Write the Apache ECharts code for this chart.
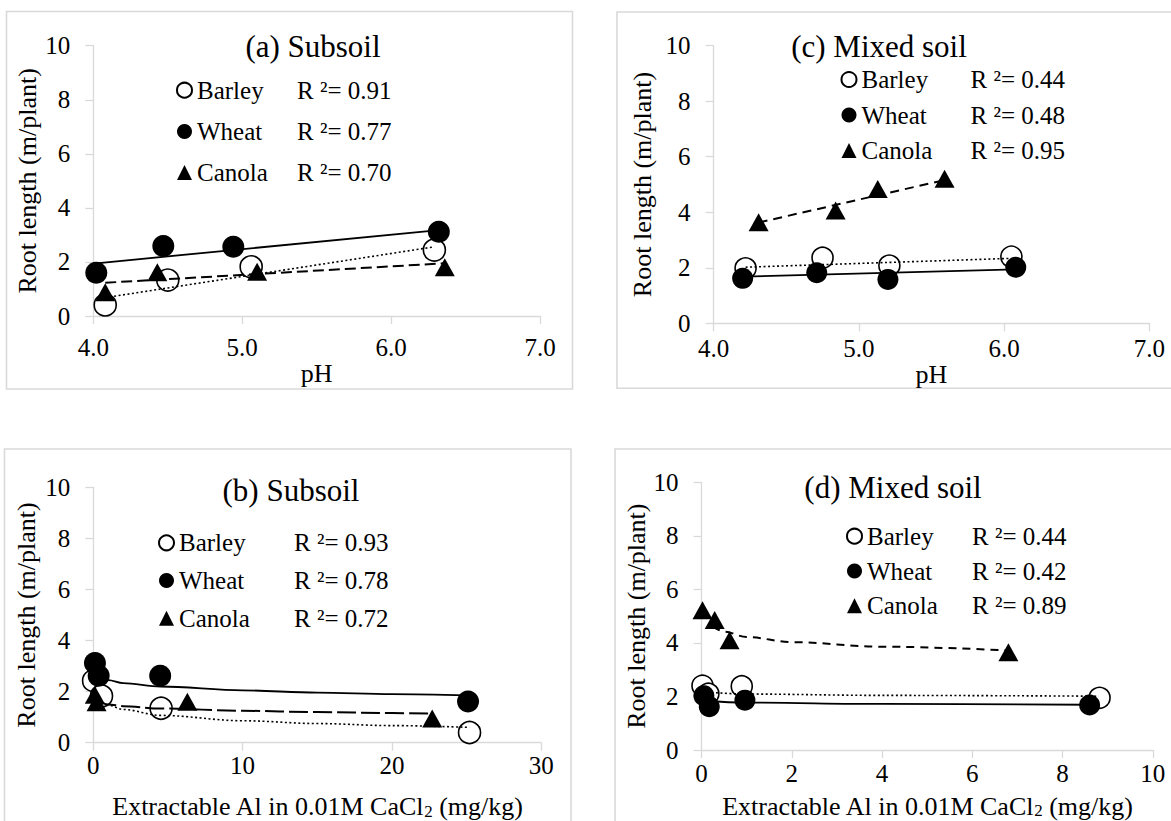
<!DOCTYPE html>
<html>
<head>
<meta charset="utf-8">
<script src="https://cdn.jsdelivr.net/npm/echarts@6/dist/echarts.min.js"></script>
<style>
html,body{margin:0;padding:0;background:#fff;}
#chart{width:1171px;height:821px;}
</style>
</head>
<body>
<div id="chart"></div>
<script>
// ---------------- DATA ----------------
const crops = ['Barley', 'Wheat', 'Canola'];
const rootTicks = ['0', '2', '4', '6', '8', '10'];
const phTicks = ['4.0', '5.0', '6.0', '7.0'];
const alTicksB = ['0', '10', '20', '30'];
const alTicksD = ['0', '2', '4', '6', '8', '10'];

const yName = 'Root length (m/plant)';
const phName = 'pH';
const alName = 'Extractable Al in 0.01M CaCl{sub|2} (mg/kg)';

const titleA = '(a) Subsoil';
const titleB = '(b) Subsoil';
const titleC = '(c) Mixed soil';
const titleD = '(d) Mixed soil';

// (a) Subsoil: root length vs pH
const aBarley = [[4.08, 0.41], [4.50, 1.33], [5.06, 1.82], [6.29, 2.44]];
const aWheat  = [[4.02, 1.60], [4.47, 2.59], [4.94, 2.56], [6.32, 3.12]];
const aCanola = [[4.08, 0.88], [4.43, 1.62], [5.10, 1.64], [6.36, 1.80]];
const aBarleyFit = [[4.08, 0.68], [6.29, 2.56]];
const aWheatFit  = [[4.02, 1.95], [6.32, 3.18]];
const aCanolaFit = [[4.08, 1.23], [6.36, 1.95]];
const aR2 = ['0.91', '0.77', '0.70'];

// (b) Subsoil: root length vs extractable Al
const bBarley = [[0.02, 2.43], [0.55, 1.83], [4.54, 1.35], [25.2, 0.40]];
const bWheat  = [[0.11, 3.12], [0.36, 2.62], [4.48, 2.62], [25.1, 1.61]];
const bCanola = [[0.10, 1.88], [0.22, 1.58], [6.3, 1.60], [22.7, 0.95]];
const bBarleyFit = [[0.4, 1.70], [1, 1.47], [2, 1.30], [4.5, 1.07], [10, 0.86], [15, 0.75], [20, 0.67], [25.2, 0.60]];
const bWheatFit  = [[0.3, 2.65], [1, 2.45], [2, 2.33], [4.5, 2.20], [10, 2.05], [15, 1.96], [20, 1.90], [25.1, 1.85]];
const bCanolaFit = [[0.3, 1.62], [1, 1.50], [2, 1.43], [4.5, 1.34], [10, 1.25], [15, 1.20], [20, 1.16], [22.7, 1.14]];
const bR2 = ['0.93', '0.78', '0.72'];

// (c) Mixed soil: root length vs pH
const cBarley = [[4.22, 1.98], [4.75, 2.36], [5.21, 2.08], [6.05, 2.40]];
const cWheat  = [[4.20, 1.62], [4.71, 1.82], [5.20, 1.58], [6.08, 2.02]];
const cCanola = [[4.31, 3.64], [4.84, 4.06], [5.13, 4.84], [5.59, 5.21]];
const cBarleyFit = [[4.22, 2.02], [6.05, 2.34]];
const cWheatFit  = [[4.20, 1.68], [6.08, 1.94]];
const cCanolaFit = [[4.31, 3.63], [5.59, 5.16]];
const cR2 = ['0.44', '0.48', '0.95'];

// (d) Mixed soil: root length vs extractable Al
const dBarley = [[0.02, 2.40], [0.15, 2.10], [0.89, 2.38], [8.82, 1.95]];
const dWheat  = [[0.05, 2.03], [0.17, 1.62], [0.96, 1.86], [8.60, 1.68]];
const dCanola = [[0.02, 5.22], [0.29, 4.86], [0.62, 4.10], [6.80, 3.65]];
const dBarleyFit = [[0.12, 2.16], [1, 2.09], [4, 2.04], [8.8, 2.01]];
const dWheatFit  = [[0.05, 1.84], [1, 1.77], [4, 1.72], [8.6, 1.69]];
const dCanolaFit = [[0.25, 4.62], [0.5, 4.42], [1, 4.22], [2, 4.03], [4, 3.86], [6.8, 3.72]];
const dR2 = ['0.44', '0.42', '0.89'];

// ---------------- LAYOUT / STYLE ----------------
const FF = "'Liberation Serif', 'Times New Roman', serif";
const AXIS_GRAY = '#d9d9d9';

const panels = [
  { title: titleA, titleX: 313, titleY: 46,
    grid: { left: 93.3, top: 45.7, width: 446.8, height: 270.3 },
    x: { min: 4, max: 7, interval: 1, ticks: phTicks, name: phName, nameGap: 44, labelMargin: 19 },
    yNameGap: 53, yLabelMargin: 23, circleSize: 22,
    legend: { left: 176, top: 77.7, itemGap: 16.2, nameWidth: 100 },
    border: [6.5, 11.5, 566, 377.5],
    data: [aBarley, aWheat, aCanola], fits: [aBarleyFit, aWheatFit, aCanolaFit], r2: aR2,
    smooth: false, canolaDash: [11, 5] },
  { title: titleC, titleX: 879, titleY: 46,
    grid: { left: 713.6, top: 45.7, width: 435.8, height: 277.6 },
    x: { min: 4, max: 7, interval: 1, ticks: phTicks, name: phName, nameGap: 37, labelMargin: 12.5 },
    yNameGap: 58, yLabelMargin: 23, circleSize: 21,
    legend: { left: 840.5, top: 67, itemGap: 10.5, nameWidth: 109 },
    border: [617, 12, 620, 376.3],
    data: [cBarley, cWheat, cCanola], fits: [cBarleyFit, cWheatFit, cCanolaFit], r2: cR2,
    smooth: false, canolaDash: [9, 6] },
  { title: titleB, titleX: 291, titleY: 490,
    grid: { left: 93.3, top: 487.3, width: 447.9, height: 255.4 },
    x: { min: 0, max: 30, interval: 10, ticks: alTicksB, name: alName, nameGap: 51, labelMargin: 10 },
    yNameGap: 54, yLabelMargin: 23, circleSize: 22,
    legend: { left: 158, top: 530.3, itemGap: 12.7, nameWidth: 115 },
    border: [4.5, 449, 566.5, 420],
    data: [bBarley, bWheat, bCanola], fits: [bBarleyFit, bWheatFit, bCanolaFit], r2: bR2,
    smooth: true, canolaDash: [19, 5] },
  { title: titleD, titleX: 893, titleY: 487.3,
    grid: { left: 701.6, top: 482.3, width: 451.2, height: 267.7 },
    x: { min: 0, max: 10, interval: 2, ticks: alTicksD, name: alName, nameGap: 43, labelMargin: 10.5 },
    yNameGap: 51, yLabelMargin: 23, circleSize: 21,
    legend: { left: 846, top: 523.7, itemGap: 9.8, nameWidth: 105 },
    border: [615, 449, 620, 420],
    data: [dBarley, dWheat, dCanola], fits: [dBarleyFit, dWheatFit, dCanolaFit], r2: dR2,
    smooth: true, canolaDash: [8, 6] }
];

function markerStyle(k, size) {
  if (k === 0) return { symbol: 'circle', symbolSize: size, itemStyle: { color: '#ffffff', borderColor: '#000', borderWidth: 1.6, opacity: 1 } };
  if (k === 1) return { symbol: 'circle', symbolSize: size, itemStyle: { color: '#000', borderColor: '#000', borderWidth: 0, opacity: 1 } };
  return { symbol: 'triangle', symbolSize: [20, 18], itemStyle: { color: '#000', borderWidth: 0, opacity: 1 } };
}

const grids = [], xAxes = [], yAxes = [], series = [], legends = [], graphics = [];

panels.forEach((p, i) => {
  grids.push(Object.assign({ containLabel: false, outerBoundsMode: 'none' }, p.grid));
  xAxes.push({
    gridIndex: i, type: 'value', min: p.x.min, max: p.x.max, interval: p.x.interval,
    axisLine: { show: true, onZero: false, lineStyle: { color: AXIS_GRAY, width: 1.3 } },
    axisTick: { show: true, inside: false, length: 8, lineStyle: { color: AXIS_GRAY, width: 1.3 } },
    splitLine: { show: false },
    axisLabel: { show: true, margin: p.x.labelMargin, color: '#000', fontSize: 25, fontFamily: FF,
      showMinLabel: true, showMaxLabel: true, hideOverlap: false,
      formatter: (v) => p.x.ticks[Math.round((v - p.x.min) / p.x.interval)] },
    name: p.x.name, nameLocation: 'middle', nameGap: p.x.nameGap,
    nameTextStyle: { color: '#000', fontSize: 26, fontFamily: FF, lineHeight: 26,
      rich: { sub: { fontSize: 17, fontFamily: FF, color: '#000', lineHeight: 14, verticalAlign: 'bottom' } } }
  });
  yAxes.push({
    gridIndex: i, type: 'value', min: 0, max: 10, interval: 2,
    axisLine: { show: true, onZero: false, lineStyle: { color: AXIS_GRAY, width: 1.3 } },
    axisTick: { show: true, inside: false, length: 8, lineStyle: { color: AXIS_GRAY, width: 1.3 } },
    splitLine: { show: false },
    axisLabel: { show: true, margin: p.yLabelMargin, color: '#000', fontSize: 25, fontFamily: FF,
      showMinLabel: true, showMaxLabel: true,
      formatter: (v) => rootTicks[Math.round(v / 2)] },
    name: yName, nameLocation: 'middle', nameGap: p.yNameGap,
    nameTextStyle: { color: '#000', fontSize: 26, fontFamily: FF }
  });

  crops.forEach((crop, k) => {
    series.push(Object.assign({
      name: crop, type: 'scatter', xAxisIndex: i, yAxisIndex: i,
      data: p.data[k], z: 2 + k * 0.1, silent: true,
      emphasis: { disabled: true }
    }, markerStyle(k, p.circleSize)));
  });
  const lineTypes = [[2, 2.5], 'solid', p.canolaDash];
  const lineWidths = [1.6, 1.8, 2];
  crops.forEach((crop, k) => {
    series.push({
      name: crop + ' trend', type: 'line', xAxisIndex: i, yAxisIndex: i,
      data: p.fits[k], showSymbol: false, symbol: 'none', silent: true,
      smooth: p.smooth ? 0.35 : false, smoothMonotone: 'x', z: 4,
      lineStyle: { color: '#000', width: lineWidths[k], type: lineTypes[k] },
      emphasis: { disabled: true }
    });
  });

  legends.push({
    show: true, orient: 'vertical', left: p.legend.left, top: p.legend.top, padding: 0,
    itemGap: p.legend.itemGap, itemWidth: 15, itemHeight: 15, selectedMode: false,
    data: crops.slice(),
    formatter: (name) => '{n|' + name + '}{r|R \u00b2= ' + p.r2[crops.indexOf(name)] + '}',
    textStyle: { color: '#000', fontSize: 25, fontFamily: FF,
      rich: {
        n: { width: p.legend.nameWidth, fontSize: 25, fontFamily: FF, color: '#000', lineHeight: 26 },
        r: { fontSize: 25, fontFamily: FF, color: '#000', lineHeight: 26 }
      } }
  });

  graphics.push({
    type: 'rect', silent: true, z: -10,
    shape: { x: p.border[0], y: p.border[1], width: p.border[2], height: p.border[3] },
    style: { fill: 'none', stroke: '#d9d9d9', lineWidth: 1.6 }
  });
  graphics.push({
    type: 'text', silent: true, x: p.titleX, y: p.titleY,
    style: { text: p.title, fill: '#000', fontSize: 31, fontFamily: FF,
      align: 'center', verticalAlign: 'middle', textAlign: 'center', textVerticalAlign: 'middle' }
  });
});

const chart = echarts.init(document.getElementById('chart'), null, { renderer: 'svg', width: 1171, height: 821 });
chart.setOption({
  animation: false,
  backgroundColor: '#ffffff',
  textStyle: { fontFamily: FF },
  grid: grids, xAxis: xAxes, yAxis: yAxes,
  legend: legends, series: series, graphic: graphics
});
</script>
</body>
</html>
